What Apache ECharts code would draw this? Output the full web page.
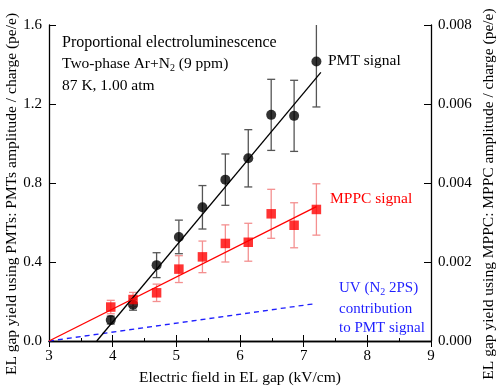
<!DOCTYPE html>
<html><head><meta charset="utf-8">
<script src="https://cdn.jsdelivr.net/npm/echarts@6/dist/echarts.min.js"></script>
<style>html,body{margin:0;padding:0;background:#fff}#c{width:498px;height:387px}</style>
</head><body><div id="c"></div>
<script>
// ---- data ----
const field = [3.97, 4.32, 4.69, 5.04, 5.41, 5.77, 6.13, 6.49, 6.85, 7.20];
const yieldPMT = [0.106, 0.184, 0.384, 0.527, 0.677, 0.817, 0.925, 1.145, 1.14, 1.415];
const errPMT = [0.02, 0.028, 0.063, 0.085, 0.11, 0.13, 0.145, 0.18, 0.18, 0.23];
const yieldMPPC = [0.00086, 0.00105, 0.00122, 0.00182, 0.00213, 0.00247, 0.0025, 0.00322, 0.00293, 0.00333];
const errMPPC = [0.00017, 0.00018, 0.00022, 0.00034, 0.0004, 0.00047, 0.00048, 0.00062, 0.00057, 0.00065];
const fitPMTx = [3.75, 7.27], fitPMTy = [0, 1.36];
const fitMPPCx = [3, 7.2], fitMPPCy = [0, 0.0034];
const uvX = [3, 7.2], uvY = [0, 0.19];
const xTicks = [3, 9, 1];
const yLeftTicks = [0, 1.6, 0.4];
const yRightTicks = [0, 0.008, 0.002];

const FONT = '"Liberation Serif","Times New Roman",serif';
const zip = (a, b) => a.map((v, i) => [v, b[i]]);
const zip3 = (a, b, c) => a.map((v, i) => [v, b[i], c[i]]);

function errBar(color) {
  return function (params, api) {
    const x = api.value(0), y = api.value(1), e = api.value(2);
    const top = api.coord([x, y + e]);
    const bot = api.coord([x, y - e]);
    const w = 4;
    const style = { stroke: color, lineWidth: 1.3 };
    return {
      type: 'group',
      children: [
        { type: 'line', shape: { x1: top[0], y1: top[1], x2: bot[0], y2: bot[1] }, style },
        { type: 'line', shape: { x1: top[0] - w, y1: top[1], x2: top[0] + w, y2: top[1] }, style },
        { type: 'line', shape: { x1: bot[0] - w, y1: bot[1], x2: bot[0] + w, y2: bot[1] }, style }
      ]
    };
  };
}

const chart = echarts.init(document.getElementById('c'));
const axisLine = { show: true, lineStyle: { color: '#000', width: 1.3 } };
const FS = 15.5;
const subRich = (color) => ({
  s: { fontSize: 10, fontFamily: FONT, fill: color, color: color, padding: [9, 0, 0, 0] }
});
const txt = (x, y, text, color, size) => ({
  type: 'text', x, y,
  style: { text, fill: color, font: (size || FS) + 'px ' + FONT, verticalAlign: 'middle', rich: subRich(color) }
});

chart.setOption({
  animation: false,
  grid: { left: 49, right: 67, top: 25, bottom: 46 },
  xAxis: [
    { type: 'value', min: xTicks[0], max: xTicks[1], interval: xTicks[2], position: 'bottom',
      axisLine, splitLine: { show: false },
      axisTick: { inside: true, length: 6, lineStyle: { color: '#000' } },
      minorTick: { show: true, splitNumber: 2, length: 3, lineStyle: { color: '#000' } },
      axisLabel: { color: '#000', fontSize: 15, fontFamily: FONT, margin: 8 } },
    { type: 'value', min: xTicks[0], max: xTicks[1], interval: xTicks[2], position: 'top',
      axisLine, splitLine: { show: false },
      axisTick: { inside: true, length: 6, lineStyle: { color: '#000' } },
      axisLabel: { show: false } }
  ],
  yAxis: [
    { type: 'value', min: yLeftTicks[0], max: yLeftTicks[1], interval: yLeftTicks[2], position: 'left',
      axisLine, splitLine: { show: false },
      axisTick: { inside: true, length: 7, lineStyle: { color: '#000' } },
      axisLabel: { color: '#000', fontSize: 15, fontFamily: FONT, margin: 7, formatter: v => v.toFixed(1) } },
    { type: 'value', min: yRightTicks[0], max: yRightTicks[1], interval: yRightTicks[2], position: 'right',
      axisLine, splitLine: { show: false },
      axisTick: { inside: true, length: 7, lineStyle: { color: '#000' } },
      axisLabel: { color: '#000', fontSize: 15, fontFamily: FONT, margin: 7, formatter: v => v.toFixed(3) } }
  ],
  series: [
    { type: 'line', data: zip(uvX, uvY), symbol: 'none', yAxisIndex: 0,
      lineStyle: { color: '#1f1fff', width: 1.3, type: [5, 4] }, z: 2 },
    { type: 'custom', data: zip3(field, yieldPMT, errPMT), renderItem: errBar('#555'), clip: true, yAxisIndex: 0, z: 3 },
    { type: 'custom', data: zip3(field, yieldMPPC, errMPPC), renderItem: errBar('#f49090'), clip: true, yAxisIndex: 1, z: 3 },
    { type: 'scatter', data: zip(field, yieldPMT), symbol: 'circle', symbolSize: 10, yAxisIndex: 0,
      itemStyle: { color: '#000' }, z: 4 },
    { type: 'scatter', data: zip(field, yieldMPPC), symbol: 'rect', symbolSize: 9.5, yAxisIndex: 1,
      itemStyle: { color: '#ff0000' }, z: 4 },
    { type: 'line', data: zip(fitPMTx, fitPMTy), symbol: 'none', yAxisIndex: 0,
      lineStyle: { color: '#000', width: 1.3 }, z: 5 },
    { type: 'line', data: zip(fitMPPCx, fitMPPCy), symbol: 'none', yAxisIndex: 1,
      lineStyle: { color: '#ff0000', width: 1.3 }, z: 5 }
  ],
  graphic: [
    txt(62, 43, 'Proportional electroluminescence', '#000', 16),
    txt(62, 64, 'Two-phase Ar+N{s|2} (9 ppm)', '#000'),
    txt(62, 86, '87 K, 1.00 atm', '#000'),
    txt(328, 61, 'PMT signal', '#000'),
    txt(330, 199, 'MPPC signal', '#ff0000'),
    txt(339, 288, 'UV (N{s|2} 2PS)', '#1f1fff', 15),
    txt(339, 309, 'contribution', '#1f1fff', 15),
    txt(339, 328, 'to PMT signal', '#1f1fff', 15),
    { type: 'text', x: 240, y: 378, style: { text: 'Electric field in EL gap (kV/cm)', fill: '#000', font: FS + 'px ' + FONT, align: 'center', verticalAlign: 'middle' } },
    { type: 'text', x: 12, y: 194, rotation: Math.PI / 2, style: { text: 'EL gap yield using PMTs: PMTs amplitude / charge (pe/e)', fill: '#000', font: FS + 'px ' + FONT, align: 'center', verticalAlign: 'middle' } },
    { type: 'text', x: 489, y: 194, rotation: Math.PI / 2, style: { text: 'EL gap yield using MPPC: MPPC amplitude / charge (pe/e)', fill: '#000', font: FS + 'px ' + FONT, align: 'center', verticalAlign: 'middle' } }
  ]
});
</script></body></html>
